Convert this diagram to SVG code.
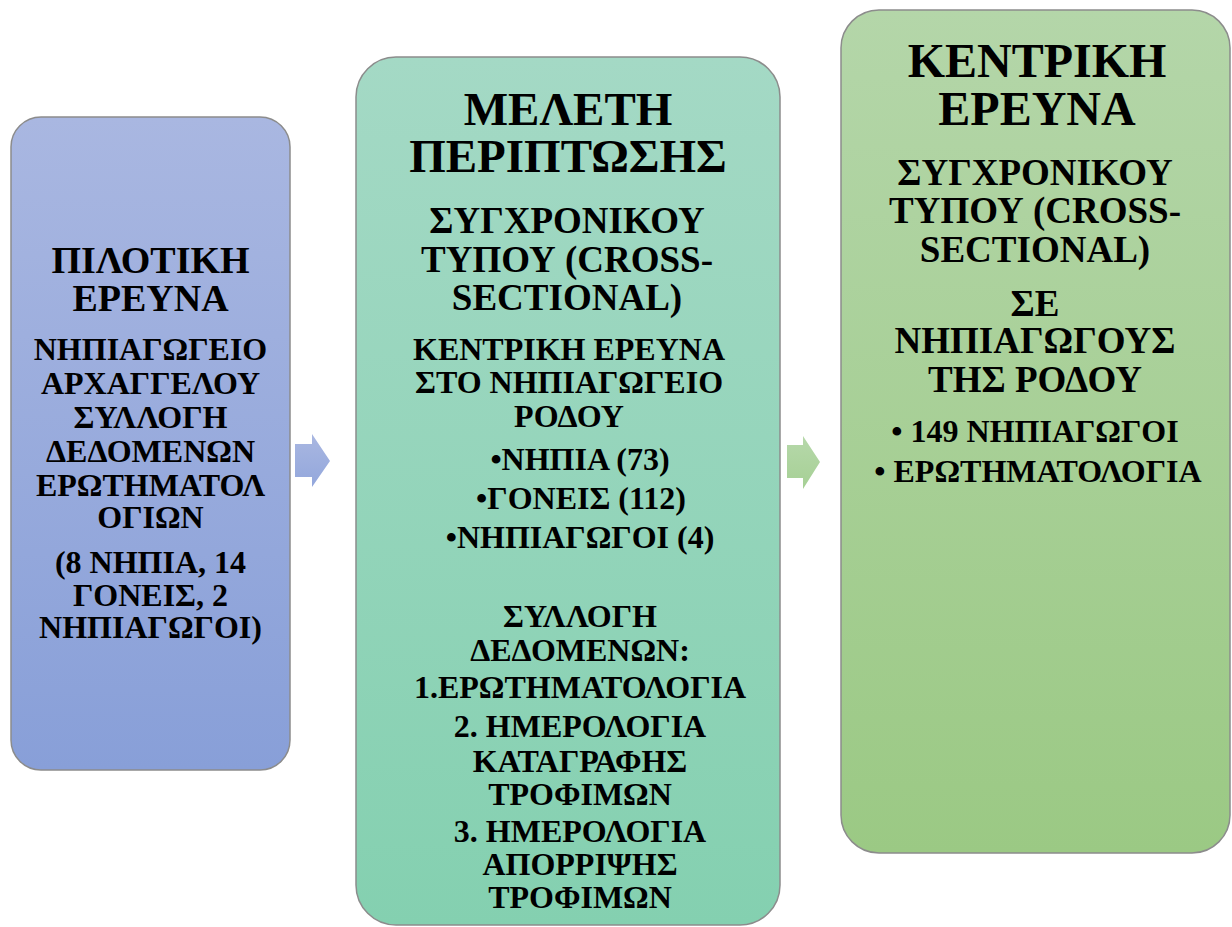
<svg xmlns="http://www.w3.org/2000/svg" width="1232" height="927" viewBox="0 0 1232 927">
  <defs>
    <linearGradient id="gBlue" x1="0" y1="0" x2="0" y2="1">
      <stop offset="0" stop-color="#a9b7e1"/>
      <stop offset="1" stop-color="#889fd8"/>
    </linearGradient>
    <linearGradient id="gTeal" x1="0" y1="0" x2="0" y2="1">
      <stop offset="0" stop-color="#a4d9c5"/>
      <stop offset="1" stop-color="#84d0b0"/>
    </linearGradient>
    <linearGradient id="gGreen" x1="0" y1="0" x2="0" y2="1">
      <stop offset="0" stop-color="#b4d6a9"/>
      <stop offset="1" stop-color="#9bc984"/>
    </linearGradient>
    <linearGradient id="gArrowBlue" x1="0" y1="0" x2="0" y2="1">
      <stop offset="0" stop-color="#a9b7e1"/>
      <stop offset="1" stop-color="#93a7dc"/>
    </linearGradient>
    <linearGradient id="gArrowGreen" x1="0" y1="0" x2="0" y2="1">
      <stop offset="0" stop-color="#b6d8aa"/>
      <stop offset="1" stop-color="#a6d095"/>
    </linearGradient>
  </defs>
  <style>
    .box { stroke: #8c8c8c; stroke-width: 1.5; }
    text { font-family: "Liberation Serif", "Times New Roman", serif; font-weight: bold; fill: #000; text-anchor: middle; }
    .t1 { font-size: 38px; }
    .b1 { font-size: 32px; }
    .t2 { font-size: 47px; }
    .s2 { font-size: 37px; }
    .b2 { font-size: 32px; }
    .t3 { font-size: 48px; }
    .s3 { font-size: 37px; }
    .b3 { font-size: 32px; }
  </style>

  <!-- Connectors between the stages -->
  <g id="connectors">
    <path d="M295 444 H312 V434 L330 461 L312 487 V477 H295 Z" fill="url(#gArrowBlue)"/>
    <path d="M787 445 H803 V436 L820 462 L803 489 V478 H787 Z" fill="url(#gArrowGreen)"/>
  </g>

  <!-- Stage 1: pilot study -->
  <g id="pilot">
    <rect class="box" x="11" y="117" width="279" height="653" rx="30" fill="url(#gBlue)"/>
    <text class="t1" x="150.5" y="273">ΠΙΛΟΤΙΚΗ</text>
    <text class="t1" x="150.5" y="311">ΕΡΕΥΝΑ</text>
    <text class="b1" x="150.5" y="360">ΝΗΠΙΑΓΩΓΕΙΟ</text>
    <text class="b1" x="150.5" y="394">ΑΡΧΑΓΓΕΛΟΥ</text>
    <text class="b1" x="150.5" y="428">ΣΥΛΛΟΓΗ</text>
    <text class="b1" x="150.5" y="462">ΔΕΔΟΜΕΝΩΝ</text>
    <text class="b1" x="150.5" y="496">ΕΡΩΤΗΜΑΤΟΛ</text>
    <text class="b1" x="150.5" y="528">ΟΓΙΩΝ</text>
    <text class="b1" x="150.5" y="573">(8 ΝΗΠΙΑ, 14</text>
    <text class="b1" x="150.5" y="606">ΓΟΝΕΙΣ, 2</text>
    <text class="b1" x="150.5" y="638">ΝΗΠΙΑΓΩΓΟΙ)</text>
  </g>

  <!-- Stage 2: case study -->
  <g id="case-study">
    <rect class="box" x="356" y="57" width="424" height="868" rx="40" fill="url(#gTeal)"/>
    <text class="t2" x="568" y="125">ΜΕΛΕΤΗ</text>
    <text class="t2" x="568" y="172">ΠΕΡΙΠΤΩΣΗΣ</text>
    <text class="s2" x="567" y="233">ΣΥΓΧΡΟΝΙΚΟΥ</text>
    <text class="s2" x="567" y="272">ΤΥΠΟΥ (CROSS-</text>
    <text class="s2" x="567" y="310">SECTIONAL)</text>
    <text class="b2" x="569" y="360">ΚΕΝΤΡΙΚΗ ΕΡΕΥΝΑ</text>
    <text class="b2" x="569" y="393">ΣΤΟ ΝΗΠΙΑΓΩΓΕΙΟ</text>
    <text class="b2" x="569" y="427">ΡΟΔΟΥ</text>
    <text class="b2" x="580" y="470">•ΝΗΠΙΑ (73)</text>
    <text class="b2" x="581" y="509">•ΓΟΝΕΙΣ (112)</text>
    <text class="b2" x="580" y="548">•ΝΗΠΙΑΓΩΓΟΙ (4)</text>
    <text class="b2" x="580" y="627">ΣΥΛΛΟΓΗ</text>
    <text class="b2" x="580" y="661">ΔΕΔΟΜΕΝΩΝ:</text>
    <text class="b2" x="580" y="698">1.ΕΡΩΤΗΜΑΤΟΛΟΓΙΑ</text>
    <text class="b2" x="580" y="737">2. ΗΜΕΡΟΛΟΓΙΑ</text>
    <text class="b2" x="580" y="772">ΚΑΤΑΓΡΑΦΗΣ</text>
    <text class="b2" x="580" y="805">ΤΡΟΦΙΜΩΝ</text>
    <text class="b2" x="580" y="842">3. ΗΜΕΡΟΛΟΓΙΑ</text>
    <text class="b2" x="580" y="875">ΑΠΟΡΡΙΨΗΣ</text>
    <text class="b2" x="580" y="908">ΤΡΟΦΙΜΩΝ</text>
  </g>

  <!-- Stage 3: main study -->
  <g id="main-study">
    <rect class="box" x="841" y="10" width="389" height="843" rx="38" fill="url(#gGreen)"/>
    <text class="t3" x="1037" y="77">ΚΕΝΤΡΙΚΗ</text>
    <text class="t3" x="1037" y="125">ΕΡΕΥΝΑ</text>
    <text class="s3" x="1035" y="185">ΣΥΓΧΡΟΝΙΚΟΥ</text>
    <text class="s3" x="1035" y="223">ΤΥΠΟΥ (CROSS-</text>
    <text class="s3" x="1035" y="262">SECTIONAL)</text>
    <text class="s3" x="1035" y="316">ΣΕ</text>
    <text class="s3" x="1035" y="353">ΝΗΠΙΑΓΩΓΟΥΣ</text>
    <text class="s3" x="1035" y="392">ΤΗΣ ΡΟΔΟΥ</text>
    <text class="b3" x="1035" y="442">• 149 ΝΗΠΙΑΓΩΓΟΙ</text>
    <text class="b3" x="1038" y="482">• ΕΡΩΤΗΜΑΤΟΛΟΓΙΑ</text>
  </g>
</svg>
